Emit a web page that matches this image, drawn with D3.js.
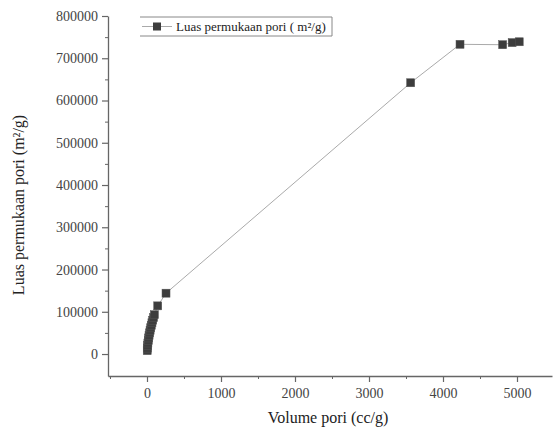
<!DOCTYPE html>
<html>
<head>
<meta charset="utf-8">
<script src="https://cdn.jsdelivr.net/npm/d3@7"></script>
<style>
  body { margin: 0; background: #fff; }
  text { font-family: "Liberation Serif", "Times New Roman", serif; }
</style>
</head>
<body>
<div id="vis"></div>
<script>
// pore volume (cc/g) vs pore surface area (m2/g)
var volume = [3, 5, 8, 12, 17, 22, 28, 35, 42, 50, 58, 67, 77, 88, 100, 145, 257, 3563, 4230, 4806, 4935, 5030];
var area = [8000, 14000, 20000, 26000, 32000, 38000, 44000, 50000, 56000, 62000, 68000, 74000, 80000, 86000, 93000, 114000, 144000, 642000, 733000, 732000, 737000, 739000];
var xTicks = [0, 1000, 2000, 3000, 4000, 5000];
var yTicks = [0, 100000, 200000, 300000, 400000, 500000, 600000, 700000, 800000];
var legendLabel = "Luas permukaan pori ( m\u00B2/g)";

var w = 553, h = 432;
var mLeft = 108, mRight = 552, mTop = 16, mBottom = 376;

var svg = d3.select("#vis").append("svg")
    .attr("width", w)
    .attr("height", h);

var x = d3.scaleLinear().domain([-527, 5473]).range([mLeft, mRight]);
var y = d3.scaleLinear().domain([-52000, 800000]).range([mBottom, mTop]);

var axisColor = "#666";
var labelColor = "#444";

// minor ticks
var xMinor = d3.range(-500, 5500, 500).filter(function(d) { return xTicks.indexOf(d) < 0; });
var yMinor = d3.range(50000, 800000, 100000);

svg.append("g")
    .attr("transform", "translate(0," + mBottom + ")")
    .call(d3.axisBottom(x).tickValues(xMinor).tickSize(3).tickFormat(""))
    .call(function(g) { g.select(".domain").remove(); })
    .selectAll("line").attr("stroke", axisColor);

svg.append("g")
    .attr("transform", "translate(" + mLeft + ",0)")
    .call(d3.axisLeft(y).tickValues(yMinor).tickSize(3).tickFormat(""))
    .call(function(g) { g.select(".domain").remove(); })
    .selectAll("line").attr("stroke", axisColor);

// major axes
var xAxis = svg.append("g")
    .attr("transform", "translate(0," + mBottom + ")")
    .call(d3.axisBottom(x).tickValues(xTicks).tickSize(6).tickSizeOuter(0).tickPadding(6).tickFormat(d3.format("d")));

var yAxis = svg.append("g")
    .attr("transform", "translate(" + mLeft + ",0)")
    .call(d3.axisLeft(y).tickValues(yTicks).tickSize(6).tickSizeOuter(0).tickPadding(4).tickFormat(d3.format("d")));

[xAxis, yAxis].forEach(function(g) {
    g.select(".domain").attr("stroke", axisColor).attr("stroke-width", 1.3);
    g.selectAll(".tick line").attr("stroke", axisColor).attr("stroke-width", 1.2);
    g.selectAll(".tick text")
        .attr("fill", labelColor)
        .style("font-family", "'Liberation Serif', serif")
        .style("font-size", "14px");
});

// axis titles
svg.append("text")
    .attr("x", (mLeft + mRight) / 2 - 2)
    .attr("y", 423)
    .attr("text-anchor", "middle")
    .attr("fill", "#222")
    .style("font-size", "16px")
    .text("Volume pori (cc/g)");

svg.append("text")
    .attr("transform", "translate(24,205) rotate(-90)")
    .attr("text-anchor", "middle")
    .attr("fill", "#222")
    .style("font-size", "16px")
    .text("Luas permukaan pori (m\u00B2/g)");

// line
var pts = volume.map(function(d, i) { return [d, area[i]]; });

svg.append("path")
    .datum(pts)
    .attr("fill", "none")
    .attr("stroke", "#aaa")
    .attr("stroke-width", 1)
    .attr("d", d3.line()
        .x(function(d) { return x(d[0]); })
        .y(function(d) { return y(d[1]); }));

var s = 8;
svg.selectAll("rect.pt")
    .data(pts)
    .enter()
    .append("rect")
    .attr("class", "pt")
    .attr("x", function(d) { return x(d[0]) - s / 2; })
    .attr("y", function(d) { return y(d[1]) - s / 2; })
    .attr("width", s)
    .attr("height", s)
    .attr("fill", "#3d3d3d")
    .attr("stroke", "#555")
    .attr("stroke-width", 0.5);

// legend
var lg = svg.append("g");
lg.append("line").attr("x1", 140).attr("x2", 332).attr("y1", 17).attr("y2", 17).attr("stroke", "#888");
lg.append("line").attr("x1", 140).attr("x2", 332).attr("y1", 36).attr("y2", 36).attr("stroke", "#888");
lg.append("line").attr("x1", 332).attr("x2", 332).attr("y1", 17).attr("y2", 36).attr("stroke", "#888");
lg.append("line").attr("x1", 142).attr("x2", 172).attr("y1", 26.5).attr("y2", 26.5).attr("stroke", "#aaa");
lg.append("rect").attr("x", 153).attr("y", 22.5).attr("width", s).attr("height", s).attr("fill", "#3d3d3d");
lg.append("text")
    .attr("x", 176)
    .attr("y", 31)
    .attr("fill", "#222")
    .style("font-size", "13px")
    .text(legendLabel);
</script>
</body>
</html>
